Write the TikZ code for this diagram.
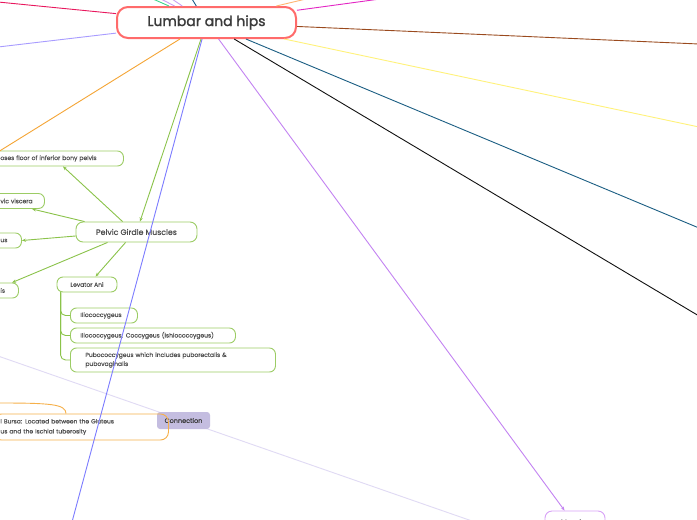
\documentclass[tikz,border=0pt]{standalone}
\usepackage{fontspec}
\setmainfont{Poppins}
\newfontfamily\titlefont{Poppins}[FakeBold=1.6]
\newfontfamily\midfont{Poppins}[FakeBold=0.8]
\newfontfamily\smallfont{Poppins}[FakeBold=0.3]
\usetikzlibrary{arrows.meta}
\definecolor{coral}{HTML}{FF6B6B}
\definecolor{crimson}{HTML}{E8175D}
\definecolor{lavline}{HTML}{A89CFF}
\definecolor{mint}{HTML}{3DD68C}
\definecolor{lilac}{HTML}{C9A0F5}
\definecolor{deepblue}{HTML}{1F5F8B}
\definecolor{peach}{HTML}{FFB570}
\definecolor{magenta2}{HTML}{E325C4}
\definecolor{brown2}{HTML}{9A4A1E}
\definecolor{yellow2}{HTML}{FFF27A}
\definecolor{navy2}{HTML}{1B5E83}
\definecolor{black2}{HTML}{111111}
\definecolor{purple2}{HTML}{C383F2}
\definecolor{green2}{HTML}{8BC34A}
\definecolor{greenbox}{HTML}{9CCC65}
\definecolor{blue2}{HTML}{7C7CFF}
\definecolor{orange2}{HTML}{F5A535}
\definecolor{connline}{HTML}{E0DAF4}
\definecolor{connfill}{HTML}{C4BDE0}
\definecolor{bursaline}{HTML}{F6B04A}
\definecolor{musline}{HTML}{D8A2F7}
\definecolor{txt}{HTML}{3A3A3A}
\definecolor{txtsm}{HTML}{505050}
\tikzset{
  edge/.style={line width=0.9pt},
  arr/.style={edge,-{Stealth[length=4pt,width=3.2pt]}},
  mainbox/.style={draw=coral,line width=2pt,rounded corners=11pt,minimum width=179pt,minimum height=31pt,
    font=\titlefont\fontsize{14}{16}\selectfont,text=txt},
  midbox/.style={draw=greenbox,line width=0.9pt,rounded corners=7pt,minimum height=20pt,
    font=\midfont\fontsize{7.8}{9}\selectfont,text=txtsm},
  leaf/.style={draw=greenbox,line width=0.9pt,rounded corners=6pt,minimum height=15pt,inner ysep=0pt,
    inner xsep=7pt,align=left,font=\smallfont\fontsize{6}{9}\selectfont,text=txtsm},
  tree/.style={draw=green2,line width=0.9pt,rounded corners=5pt},
}
\begin{document}
\begin{tikzpicture}[x=1pt,y=-1pt]
\useasboundingbox (0,0) rectangle (697,520);
\clip (0,0) rectangle (697,520);
\fill[white] (0,0) rectangle (697,520);

% free ends
\coordinate (eCrimson) at (-2,2);
\coordinate (eLav) at (-2,47);
\coordinate (eMint) at (153,-1);
\coordinate (eLilacA) at (161,-1);
\coordinate (eLilacB) at (172,-1);
\coordinate (eDeep) at (192,-1);
\coordinate (ePeach) at (306,-1);
\coordinate (eMag) at (380,-1);
\coordinate (eBrown) at (699,44);
\coordinate (eYellow) at (699,127);
\coordinate (eNavy) at (699,228);
\coordinate (eBlack) at (699,316);
\coordinate (eBlue) at (72,522);
\coordinate (eOrange) at (-2,152);
\coordinate (eConnA) at (-2,356);
\coordinate (eConnB) at (472,521);
\coordinate (eBursaP) at (-2,403);

% nodes
\node[mainbox] (c) at (206.5,22.5) {Lumbar and hips};
\node[midbox,minimum width=121pt] (pgm) at (136.5,232) {Pelvic Girdle Muscles};
\node[leaf,anchor=west,text width=116pt] (n1) at (-7,158.5) {oses floor of inferior bony pelvis};
\node[leaf,anchor=west,text width=37pt] (n2) at (-7,201) {vic viscera};
\node[leaf,anchor=west,text width=14pt] (n3) at (-7,240.5) {us};
\node[leaf,anchor=west,text width=11pt] (n4) at (-7,290.5) {is};
\node[leaf,align=center,inner xsep=0pt,minimum width=60pt] (la) at (87,284.5) {Levator Ani};
\node[leaf,anchor=west,inner xsep=10pt,text width=47pt] (c1) at (70,315.5) {Iliococcygeus};
\node[leaf,anchor=west,inner xsep=10pt,text width=145pt] (c2) at (70,335.5) {Iliococcygeus: Coccygeus (ishiococcygeus)};
\node[leaf,anchor=west,inner xsep=15pt,text width=175pt,minimum height=24pt] (c3) at (70,360) {Pubococcygeus which includes puborectalis \&\\pubovaginalis};
\node[draw=musline,line width=0.9pt,rounded corners=7pt,minimum width=60pt,minimum height=22pt,
  font=\midfont\fontsize{7}{9}\selectfont,text=txtsm] (mus) at (575,522) {Muscles};

% connection line and label
\draw[connline,edge] (eConnA) -- (eConnB);
\node[fill=connfill,rounded corners=3pt,minimum width=53pt,minimum height=17pt,inner sep=0pt,
  font=\smallfont\fontsize{6.5}{8}\selectfont,text=txt] (conn) at (183.5,420.5) {Connection};

% bursa
\node[draw=bursaline,line width=0.9pt,rounded corners=8pt,anchor=west,inner xsep=7pt,inner ysep=0pt,
  minimum height=26pt,text width=161pt,align=left,font=\smallfont\fontsize{6}{10}\selectfont,text=txtsm]
  (bursa) at (-7,427) {l Bursa: Located between the Gluteus\\us and the Ischial tuberosity};
\draw[bursaline,edge] (eBursaP) .. controls (50,403) and (66,404) .. ([xshift=73pt]bursa.north west);

% main connectors
\draw[crimson,edge] (c) -- (eCrimson);
\draw[lavline,edge] (c) -- (eLav);
\draw[mint,edge] (c) -- (eMint);
\draw[lilac,edge] (c) -- (eLilacA);
\draw[lilac,edge] (c) -- (eLilacB);
\draw[deepblue,edge] (c) -- (eDeep);
\draw[peach,edge] (c) -- (ePeach);
\draw[magenta2,edge] (c) -- (eMag);
\draw[brown2,edge] (c) -- (eBrown);
\draw[yellow2,edge] (c) -- (eYellow);
\draw[navy2,edge] (c) -- (eNavy);
\draw[black2,edge] (c) -- (eBlack);
\draw[orange2,edge] (c) -- (eOrange);
\draw[blue2,edge] (c) -- (eBlue);
\draw[purple2,arr] (c) -- ([xshift=20pt]mus.north west);
\draw[green2,arr] (c) -- (pgm);

% pelvic girdle children
\draw[green2,arr] ([xshift=47pt]pgm.north west) -- ([xshift=70pt]n1.south west);
\draw[green2,arr] ([xshift=9pt]pgm.north west) -- ([xshift=39pt]n2.south west);
\draw[green2,arr] ([yshift=-4pt]pgm.west) -- (n3.east);
\draw[green2,arr] ([xshift=32pt]pgm.south west) -- ([xshift=19pt]n4.north west);
\draw[green2,arr] ([xshift=50pt]pgm.south west) -- ([xshift=39pt]la.north west);

% levator ani tree
\draw[tree] ([xshift=4pt]la.south west) |- (c1.west);
\draw[tree] ([xshift=4pt]la.south west) |- (c2.west);
\draw[tree] ([xshift=4pt]la.south west) |- (c3.west);
\end{tikzpicture}
\end{document}
